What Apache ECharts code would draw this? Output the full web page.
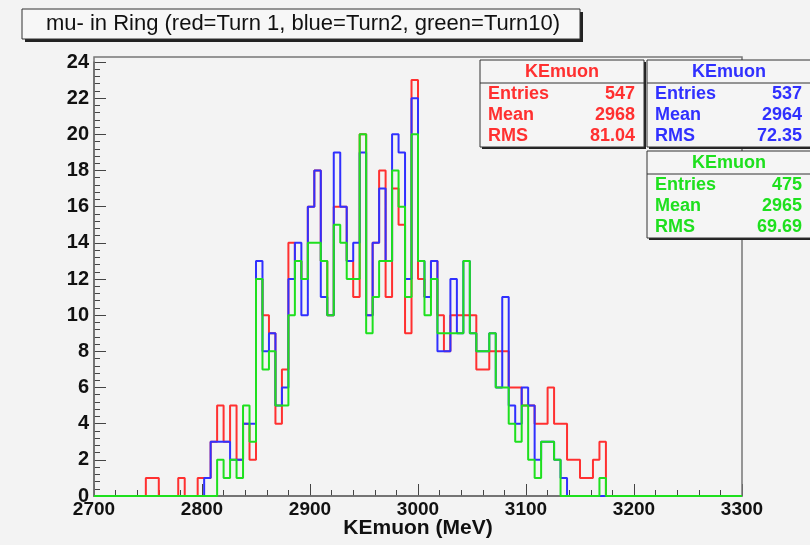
<!DOCTYPE html>
<html><head><meta charset="utf-8">
<script src="https://cdn.jsdelivr.net/npm/echarts@6/dist/echarts.min.js"></script>
<style>html,body{margin:0;padding:0;background:#f3f3f3}#c{width:810px;height:545px}</style>
</head><body><div id="c"></div>
<script>
// Histogram binning: 100 bins of 6 MeV from 2700 to 3300
const binStart = 2700;
const binWidth = 6;
const nBins = 100;

const xTickValues = [2700, 2800, 2900, 3000, 3100, 3200, 3300];
const yTickValues = [0, 2, 4, 6, 8, 10, 12, 14, 16, 18, 20, 22, 24];

// bin contents
const red = [
  0,0,0,0,0,0,0,0,1,1, 0,0,0,1,0,0,1,1,3,5,
  3,5,2,4,2,12,10,9,4,7, 14,13,12,16,18,13,10,16,16,13,
  11,20,10,14,18,11,17,15,9,23, 12,11,13,10,8,10,10,10,10,7,
  7,8,8,8,6,6,5,5,4,4, 6,4,4,2,2,1,1,2,3,0,
  0,0,0,0,0,0,0,0,0,0, 0,0,0,0,0,0,0,0,0,0
];
const blue = [
  0,0,0,0,0,0,0,0,0,0, 0,0,0,0,0,0,0,1,3,3,
  3,2,2,4,4,13,8,9,5,6, 12,14,10,16,18,11,10,19,16,13,
  14,19,10,14,17,13,20,19,12,22, 13,11,13,8,8,12,9,13,9,8,
  8,9,6,11,5,4,6,5,2,3, 3,2,1,0,0,0,0,0,0,0,
  0,0,0,0,0,0,0,0,0,0, 0,0,0,0,0,0,0,0,0,0
];
const green = [
  0,0,0,0,0,0,0,0,0,0, 0,0,0,0,0,0,0,0,0,2,
  1,2,1,5,3,12,7,8,5,5, 10,13,12,14,14,13,10,15,14,12,
  12,20,9,11,13,13,18,16,11,20, 13,10,12,9,9,9,9,13,9,8,
  8,9,6,6,4,3,5,2,1,3, 3,2,0,0,0,0,0,0,1,0,
  0,0,0,0,0,0,0,0,0,0, 0,0,0,0,0,0,0,0,0,0
];

const titleText = 'mu- in Ring (red=Turn 1, blue=Turn2, green=Turn10)';
const statNames = ['KEmuon', 'KEmuon', 'KEmuon'];
const statEntries = ['547', '537', '475'];
const statMean = ['2968', '2964', '2965'];
const statRMS = ['81.04', '72.35', '69.69'];
const colors = ['#ff3030', '#3030ff', '#1ee01e'];

function toSteps(vals) {
  const pts = vals.map((v, i) => [binStart + i * binWidth, v]);
  pts.push([binStart + nBins * binWidth, vals[vals.length - 1]]);
  return pts;
}

const FONT = '"Liberation Sans", Arial, Helvetica, sans-serif';

function txt(x, y, s, color, align, size) {
  return { type: 'text', x: x, y: y, z: 12, style: { text: s, font: 'bold ' + size + 'px ' + FONT, fill: color, align: align, verticalAlign: 'middle', textAlign: align, textVerticalAlign: 'middle' } };
}

function statBox(x, y, w, color, idx) {
  const h = 87;
  return [
    { type: 'rect', shape: { x: x + 2, y: y + 2, width: w, height: h }, style: { fill: '#222' }, z: 10 },
    { type: 'rect', shape: { x: x, y: y, width: w, height: h }, style: { fill: '#f5f5f5', stroke: '#333', lineWidth: 1 }, z: 11 },
    { type: 'line', shape: { x1: x, y1: y + 23, x2: x + w, y2: y + 23 }, style: { stroke: '#333', lineWidth: 1 }, z: 12 },
    txt(x + w / 2, y + 12, statNames[idx], color, 'center', 18),
    txt(x + 8, y + 34, 'Entries', color, 'left', 18),
    txt(x + w - 9, y + 34, statEntries[idx], color, 'right', 18),
    txt(x + 8, y + 55, 'Mean', color, 'left', 18),
    txt(x + w - 9, y + 55, statMean[idx], color, 'right', 18),
    txt(x + 8, y + 76, 'RMS', color, 'left', 18),
    txt(x + w - 9, y + 76, statRMS[idx], color, 'right', 18)
  ];
}

const chart = echarts.init(document.getElementById('c'), null, { renderer: 'canvas' });
const axisColor = '#444';
chart.setOption({
  animation: false,
  backgroundColor: '#f3f3f3',
  grid: { left: 94, right: 68, top: 62, bottom: 49, containLabel: false, outerBoundsMode: 'none' },
  xAxis: {
    type: 'value', min: xTickValues[0], max: xTickValues[xTickValues.length - 1], interval: 100,
    axisLine: { show: true, lineStyle: { color: axisColor, width: 1.5 } },
    axisTick: { show: true, inside: true, length: 12, lineStyle: { color: axisColor } },
    minorTick: { show: true, splitNumber: 5, length: 6, lineStyle: { color: axisColor } },
    splitLine: { show: false },
    axisLabel: { fontFamily: FONT, fontWeight: 'bold', fontSize: 19, color: '#111', margin: 4, formatter: v => String(v) },
    name: 'KEmuon (MeV)', nameLocation: 'middle', nameGap: 22, nameMoveOverlap: false,
    nameTextStyle: { fontFamily: FONT, fontWeight: 'bold', fontSize: 21, color: '#111' }
  },
  yAxis: {
    type: 'value', min: yTickValues[0], max: yTickValues[yTickValues.length - 1], interval: 2,
    axisLine: { show: true, lineStyle: { color: axisColor, width: 1.5 } },
    axisTick: { show: true, inside: true, length: 12, lineStyle: { color: axisColor } },
    minorTick: { show: true, splitNumber: 5, length: 6, lineStyle: { color: axisColor } },
    splitLine: { show: false },
    axisLabel: { fontFamily: FONT, fontWeight: 'bold', fontSize: 20, color: '#111', margin: 5, formatter: v => String(v) }
  },
  series: [red, blue, green].map((arr, i) => ({
    type: 'line', step: 'end', data: toSteps(arr), showSymbol: false, symbol: 'none',
    lineStyle: { color: colors[i], width: 2 }, itemStyle: { color: colors[i] },
    emphasis: { disabled: true }, clip: false
  })),
  graphic: [
    { type: 'rect', shape: { x: 94, y: 57, width: 648, height: 439 }, style: { fill: 'none', stroke: '#777', lineWidth: 1.5 }, z: 1, silent: true },
    { type: 'rect', shape: { x: 25, y: 12, width: 558, height: 30 }, style: { fill: '#222' }, z: 10 },
    { type: 'rect', shape: { x: 22, y: 9, width: 558, height: 30 }, style: { fill: '#f7f7f7', stroke: '#333', lineWidth: 1 }, z: 11 },
    { type: 'text', x: 303, y: 24, z: 12, style: { text: titleText, font: 'normal 22px ' + FONT, fill: '#111', align: 'center', verticalAlign: 'middle', textAlign: 'center', textVerticalAlign: 'middle' } }
  ].concat(statBox(480, 60, 164, colors[0], 0))
   .concat(statBox(647, 60, 164, colors[1], 1))
   .concat(statBox(647, 151, 164, colors[2], 2))
});
</script>
</body></html>
